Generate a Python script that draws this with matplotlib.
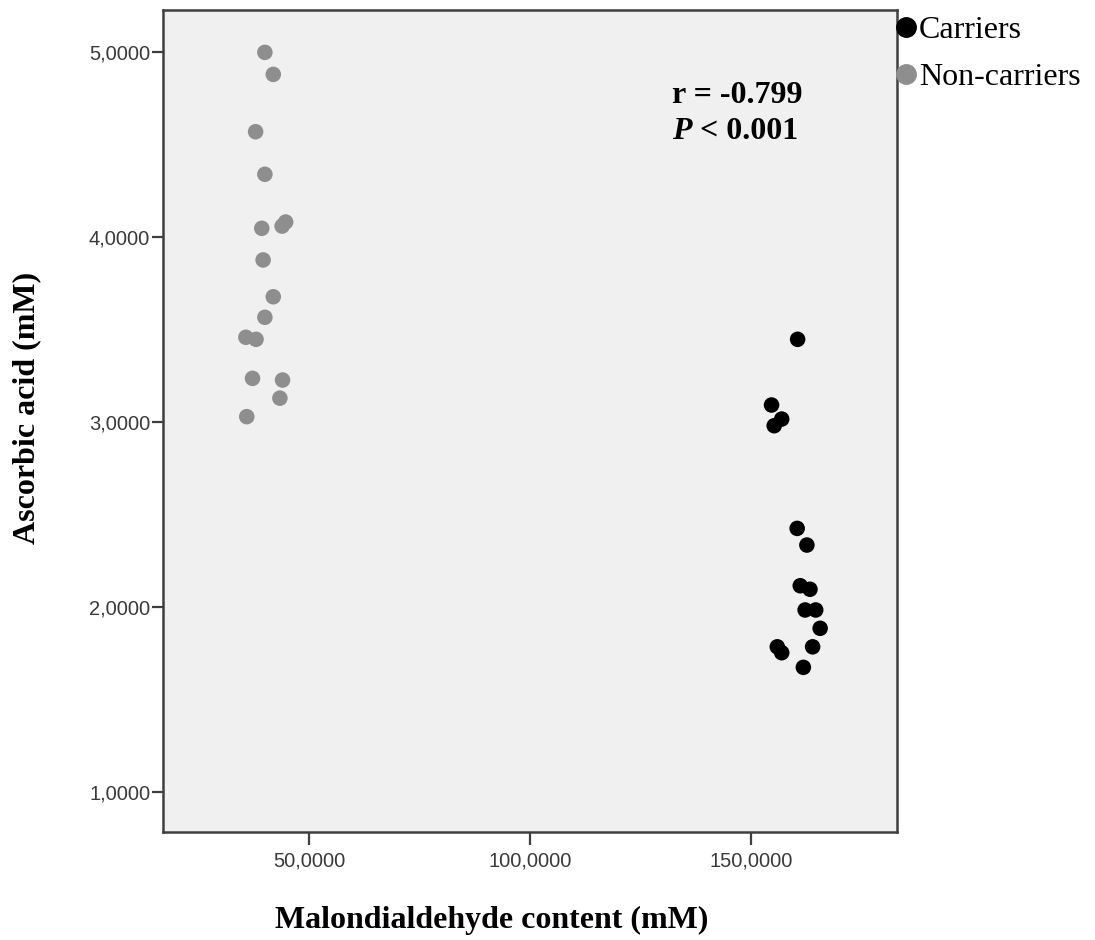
import matplotlib
matplotlib.use('Agg')
import matplotlib.pyplot as plt
from matplotlib.lines import Line2D
from matplotlib.ticker import FuncFormatter

# Datos
mda_no_portadores = [40.0, 41.9, 37.9, 40.0, 43.9, 44.7, 39.3, 39.6, 41.9, 40.0,
                     35.7, 38.0, 37.2, 44.0, 43.4, 35.9]
aa_no_portadores = [4.998, 4.879, 4.569, 4.339, 4.059, 4.081, 4.047, 3.876, 3.677, 3.566,
                    3.458, 3.447, 3.236, 3.227, 3.129, 3.029]

mda_portadores = [160.6, 154.7, 157.0, 155.3, 160.5, 162.7, 161.2, 163.4, 162.3, 164.7,
                  165.7, 156.0, 157.0, 164.0, 161.9]
aa_portadores = [3.447, 3.092, 3.016, 2.980, 2.425, 2.335, 2.115, 2.096, 1.984, 1.984,
                 1.885, 1.785, 1.753, 1.785, 1.674]

x_ticks = [50, 100, 150]
y_ticks = [1, 2, 3, 4, 5]
etiquetas_leyenda = ['Carriers', 'Non-carriers']

GRIS = '#8e8e8e'
EJE = '#3f3f3f'
SERIF = 'Liberation Serif'
SANS = 'Liberation Sans'

fig = plt.figure(figsize=(10.95, 9.40), dpi=100)
ax = fig.add_axes([162.7 / 1095, 1 - 832 / 940, (897 - 162.7) / 1095, (832 - 10) / 940])
ax.set_facecolor('#f0f0f0')

ax.scatter(mda_no_portadores, aa_no_portadores, s=125, color=GRIS, edgecolors='none', zorder=3)
ax.scatter(mda_portadores, aa_portadores, s=125, color='black', edgecolors='none', zorder=3)

ax.set_xlim(16.87, 183.1)
ax.set_ylim(0.784, 5.227)
ax.set_xticks(x_ticks)
ax.set_yticks(y_ticks)

coma = FuncFormatter(lambda v, p: f'{v:.4f}'.replace('.', ','))
ax.xaxis.set_major_formatter(coma)
ax.yaxis.set_major_formatter(coma)

for s in ax.spines.values():
    s.set_color(EJE)
    s.set_linewidth(1.8)

ax.tick_params(axis='x', length=9, width=1.6, color=EJE, pad=5,
               labelsize=14.5, labelcolor='#3a3a3a')
ax.tick_params(axis='y', length=8, width=1.6, color=EJE, pad=1,
               labelsize=14.5, labelcolor='#3a3a3a')
for lab in ax.get_xticklabels() + ax.get_yticklabels():
    lab.set_family(SANS)

# Etiquetas de los ejes
fig.text(492 / 1095, 1 - 928 / 940, 'Malondialdehyde content (mM)', ha='center', va='baseline',
         family=SERIF, fontweight='bold', fontsize=23)
fig.text(27 / 1095, 1 - 408 / 940, 'Ascorbic acid (mM)', ha='center', va='center', rotation=90,
         family=SERIF, fontweight='bold', fontsize=23)

# Anotacion de la correlacion
fig.text(672 / 1095, 1 - 103 / 940, 'r = -0.799', ha='left', va='baseline',
         family=SERIF, fontweight='bold', fontsize=23)
t_p = fig.text(672 / 1095, 1 - 139 / 940, 'P', ha='left', va='baseline',
               family=SERIF, fontweight='bold', style='italic', fontsize=23)
ax.annotate(' < 0.001', xy=(1, 0), xycoords=t_p, ha='left', va='bottom',
            family=SERIF, fontweight='bold', fontsize=23)

# Leyenda
handles = [Line2D([], [], marker='o', linestyle='none', color='black', markersize=14),
           Line2D([], [], marker='o', linestyle='none', color=GRIS, markersize=14)]
fig.legend(handles, etiquetas_leyenda, loc='upper left',
           bbox_to_anchor=(898 / 1095, 1 - 16 / 940), frameon=False,
           handlelength=0.5, handletextpad=0.15, borderaxespad=0, borderpad=0,
           labelspacing=0.55, prop={'family': SERIF, 'size': 23})

fig.savefig('out.png', dpi=100, facecolor='white')
